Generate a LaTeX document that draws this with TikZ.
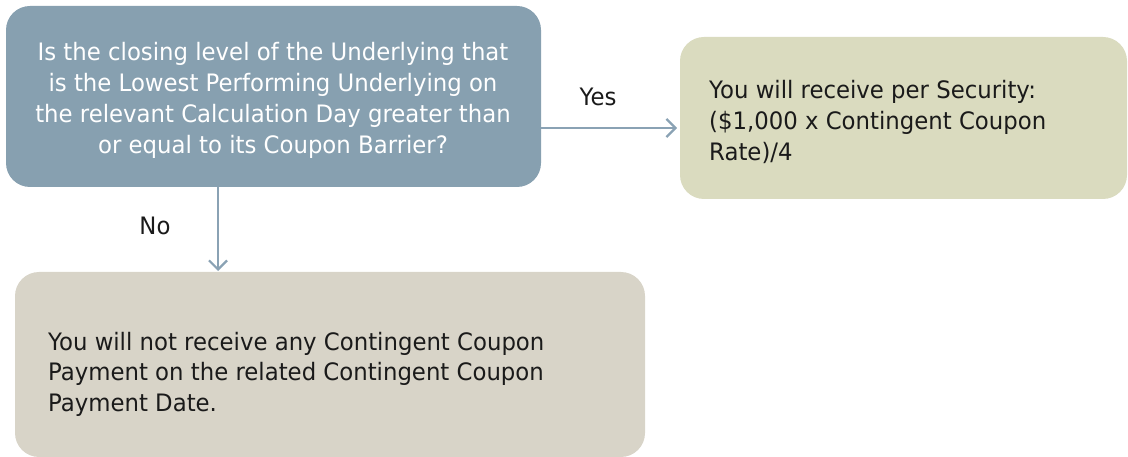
\documentclass[tikz,border=0pt]{standalone}
\usepackage{fontspec}
\setmainfont{DejaVu Sans}
\newfontfamily\djs[FakeStretch=0.95]{DejaVu Sans}
\usetikzlibrary{arrows.meta}
\definecolor{qfill}{HTML}{87A0B0}
\definecolor{yfill}{HTML}{DADBBF}
\definecolor{nfill}{HTML}{D8D4C8}
\definecolor{arr}{HTML}{8AA2B4}
\definecolor{txt}{HTML}{1A1A1A}
\tikzset{
  box/.style={rounded corners=24pt, inner sep=0pt},
  lbl/.style={font=\djs\fontsize{24}{31}\selectfont, text=txt, inner sep=0pt},
  conn/.style={draw=arr, line width=2.4pt, -{Straight Barb[length=9pt,width=18pt,line width=2.2pt]}}
}
\begin{document}
\begin{tikzpicture}[x=1pt,y=-1pt]
\useasboundingbox (0,0) rectangle (1128,457);
% boxes
\fill[qfill, box] (6,6) rectangle (541,187);
\fill[yfill, box] (680,37) rectangle (1127,199);
\fill[nfill, box] (15,272) rectangle (645,457);
\node[align=center, lbl, text=white, anchor=base] (q) at (273,154)
  {Is the closing level of the Underlying that\\is the Lowest Performing Underlying on\\the relevant Calculation Day greater than\\or equal to its Coupon Barrier?};
\node[align=left, anchor=base west, lbl] (y) at (709,161)
  {You will receive per Security:\\(\$1,000 x Contingent Coupon\\Rate)/4};
\node[align=left, anchor=base west, lbl, font=\djs\fontsize{24}{30.5}\selectfont] (n) at (48,411)
  {You will not receive any Contingent Coupon\\Payment on the related Contingent Coupon\\Payment Date.};
\coordinate (qr) at (541,128);
\coordinate (yl) at (677,128);
\coordinate (qb) at (218,187);
\coordinate (nt) at (218,271);
\draw[conn] (qr) -- (yl);
\draw[conn] (qb) -- (nt);
\node[lbl] (yes) at (598,97) {Yes};
\node[lbl] (no) at (155,226) {No};
\end{tikzpicture}
\end{document}
